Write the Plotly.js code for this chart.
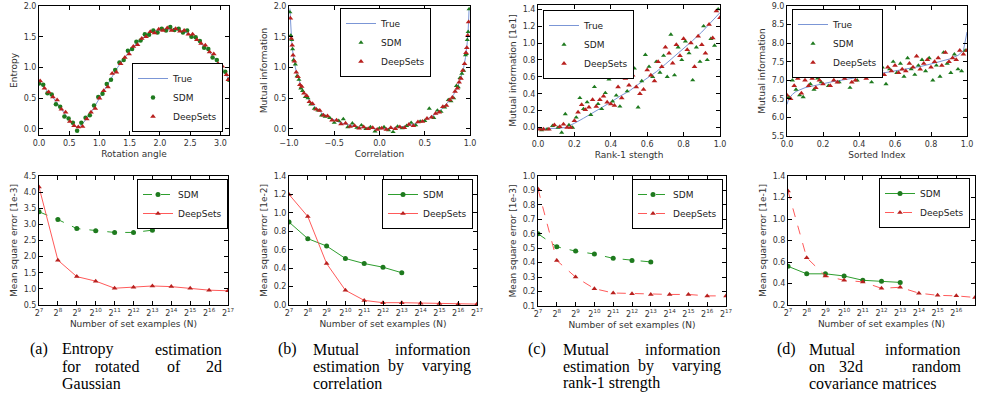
<!DOCTYPE html>
<html><head><meta charset="utf-8">
<script src="https://cdn.plot.ly/plotly-3.0.1.min.js"></script>
<style>html,body{margin:0;padding:0;background:#fff}#c{width:981px;height:419px}</style>
</head><body><div id="c"></div>
<script>
// ---------- Panel (a) top: entropy vs rotation angle ----------
const aTrueX=[0,0.1,0.2,0.3,0.4,0.5,0.6,0.65,0.7,0.8,0.9,1.0,1.1,1.2,1.3,1.4,1.5,1.6,1.7,1.8,1.9,2.0,2.1,2.2,2.3,2.4,2.5,2.6,2.7,2.8,2.9,3.0,3.1,3.14];
const aTrueY=[0.76,0.66,0.55,0.42,0.28,0.14,0.04,0.02,0.06,0.18,0.33,0.50,0.67,0.84,1.00,1.14,1.27,1.38,1.47,1.54,1.59,1.61,1.62,1.62,1.61,1.58,1.53,1.46,1.37,1.27,1.15,1.01,0.87,0.81];
const aSdmX=[0.00,0.07,0.14,0.21,0.28,0.35,0.42,0.49,0.56,0.63,0.70,0.77,0.84,0.91,0.98,1.05,1.12,1.19,1.26,1.33,1.40,1.47,1.54,1.61,1.68,1.75,1.82,1.89,1.96,2.03,2.10,2.17,2.24,2.31,2.38,2.45,2.52,2.59,2.66,2.73,2.80,2.87,2.94,3.01,3.08,3.14];
const aSdmY=[0.74,0.72,0.58,0.56,0.40,0.36,0.20,0.17,0.10,-0.03,0.10,0.18,0.22,0.38,0.52,0.57,0.73,0.80,0.96,1.08,1.12,1.27,1.30,1.42,1.44,1.54,1.53,1.60,1.57,1.63,1.60,1.66,1.61,1.63,1.57,1.60,1.50,1.49,1.43,1.32,1.30,1.16,1.12,0.97,0.93,0.80];
const aDsX=[0.02,0.09,0.16,0.23,0.30,0.37,0.44,0.51,0.58,0.65,0.72,0.79,0.86,0.93,1.00,1.07,1.14,1.21,1.28,1.35,1.42,1.49,1.56,1.63,1.70,1.77,1.84,1.91,1.98,2.05,2.12,2.19,2.26,2.33,2.40,2.47,2.54,2.61,2.68,2.75,2.82,2.89,2.96,3.03,3.10,3.13];
const aDsY=[0.78,0.66,0.60,0.52,0.47,0.32,0.27,0.12,0.05,0.03,0.04,0.16,0.27,0.33,0.50,0.62,0.68,0.90,0.92,1.06,1.16,1.22,1.34,1.37,1.47,1.50,1.58,1.56,1.62,1.60,1.64,1.60,1.63,1.59,1.60,1.54,1.54,1.45,1.39,1.36,1.25,1.22,1.06,1.02,0.88,0.80];

// ---------- Panel (b) top: MI vs correlation ----------
const bTrueX=[-0.99,-0.98,-0.97,-0.96,-0.95,-0.93,-0.91,-0.89,-0.87,-0.85,-0.82,-0.79,-0.76,-0.72,-0.68,-0.64,-0.6,-0.55,-0.5,-0.45,-0.4,-0.35,-0.3,-0.25,-0.2,-0.15,-0.1,-0.05,0,0.05,0.1,0.15,0.2,0.25,0.3,0.35,0.4,0.45,0.5,0.55,0.6,0.64,0.68,0.72,0.76,0.79,0.82,0.85,0.87,0.89,0.91,0.93,0.95,0.96,0.97,0.98,0.99];
const bTrueY=[1.96,1.61,1.41,1.27,1.16,1.00,0.88,0.79,0.71,0.64,0.56,0.49,0.43,0.37,0.31,0.26,0.22,0.18,0.14,0.11,0.087,0.065,0.047,0.032,0.02,0.011,0.005,0.001,0,0.001,0.005,0.011,0.02,0.032,0.047,0.065,0.087,0.11,0.14,0.18,0.22,0.26,0.31,0.37,0.43,0.49,0.56,0.64,0.71,0.79,0.88,1.00,1.16,1.27,1.41,1.61,1.96];
const bSdmX=[-0.99,-0.98,-0.97,-0.96,-0.95,-0.93,-0.91,-0.89,-0.87,-0.85,-0.82,-0.79,-0.76,-0.72,-0.68,-0.64,-0.6,-0.55,-0.5,-0.45,-0.4,-0.35,-0.3,-0.25,-0.2,-0.15,-0.1,-0.05,0,0.05,0.1,0.15,0.2,0.25,0.3,0.35,0.4,0.45,0.5,0.55,0.6,0.64,0.68,0.72,0.76,0.79,0.82,0.85,0.87,0.89,0.91,0.93,0.95,0.96,0.97,0.98,0.99];
const bSdmY=[1.90,1.52,1.45,1.30,1.12,1.05,0.86,0.80,0.66,0.62,0.52,0.50,0.40,0.33,0.30,0.22,0.20,0.18,0.10,0.13,0.16,0.03,0.09,0.02,0.06,0.0,0.03,-0.04,0.01,0.03,-0.02,-0.05,0.04,0.01,0.05,0.10,0.06,0.12,0.13,0.33,0.18,0.30,0.28,0.35,0.47,0.45,0.50,0.70,0.68,0.83,0.90,0.95,1.20,1.22,1.45,1.58,1.95];
const bDsX=[-0.985,-0.975,-0.965,-0.955,-0.94,-0.92,-0.90,-0.88,-0.86,-0.835,-0.805,-0.775,-0.74,-0.70,-0.66,-0.62,-0.575,-0.525,-0.475,-0.425,-0.375,-0.325,-0.275,-0.225,-0.175,-0.125,-0.075,-0.025,0.025,0.075,0.125,0.175,0.225,0.275,0.325,0.375,0.425,0.475,0.525,0.575,0.62,0.66,0.70,0.74,0.775,0.805,0.835,0.86,0.88,0.90,0.92,0.94,0.955,0.965,0.975,0.985];
const bDsY=[1.80,1.47,1.36,1.20,1.10,0.92,0.85,0.72,0.69,0.58,0.54,0.44,0.41,0.32,0.30,0.22,0.21,0.14,0.14,0.08,0.09,0.04,0.05,0.01,0.03,0.0,0.02,-0.01,0.01,-0.01,0.02,0.0,0.03,0.02,0.07,0.05,0.11,0.12,0.17,0.19,0.25,0.27,0.36,0.38,0.47,0.51,0.61,0.66,0.76,0.82,0.95,1.06,1.24,1.32,1.52,1.74];

// ---------- Panel (c) top: MI vs rank-1 strength ----------
const cTrueX=[0,0.05,0.1,0.15,0.2,0.25,0.3,0.35,0.4,0.45,0.5,0.55,0.6,0.65,0.7,0.75,0.8,0.85,0.9,0.95,1.0];
const cTrueY=[-0.01,-0.01,-0.01,0.0,0.05,0.11,0.17,0.23,0.30,0.37,0.43,0.51,0.58,0.66,0.75,0.84,0.93,1.03,1.13,1.24,1.36];
const cSdmX=[0.02,0.05,0.08,0.11,0.13,0.15,0.17,0.19,0.21,0.23,0.25,0.27,0.29,0.31,0.33,0.35,0.37,0.39,0.41,0.43,0.45,0.47,0.49,0.51,0.53,0.55,0.57,0.59,0.61,0.63,0.65,0.67,0.69,0.71,0.73,0.75,0.77,0.79,0.81,0.83,0.85,0.87,0.89,0.91,0.93,0.95,0.97,0.99];
const cSdmY=[-0.03,-0.02,0.02,0.0,-0.06,0.16,0.03,0.0,0.12,0.35,0.22,0.30,0.15,0.48,0.28,0.22,0.41,0.57,0.31,0.38,0.25,0.60,0.43,0.72,0.70,0.24,0.55,0.86,0.72,0.60,0.78,0.65,0.85,0.60,1.10,0.62,0.95,0.80,1.02,0.88,0.56,0.95,0.78,1.20,0.80,1.05,0.97,1.40];
const cDsX=[0.01,0.03,0.06,0.09,0.12,0.14,0.16,0.18,0.20,0.22,0.24,0.26,0.28,0.30,0.32,0.34,0.36,0.38,0.40,0.42,0.44,0.46,0.48,0.50,0.52,0.54,0.56,0.58,0.60,0.62,0.64,0.66,0.68,0.70,0.72,0.74,0.76,0.78,0.80,0.82,0.84,0.86,0.88,0.90,0.92,0.94,0.96,0.98,1.00];
const cDsY=[-0.02,-0.02,-0.02,0.03,0.01,0.04,0.0,0.0,0.08,0.18,0.27,0.21,0.24,0.33,0.25,0.33,0.37,0.30,0.28,0.26,0.48,0.35,0.58,0.50,0.62,0.48,0.40,0.45,0.68,0.62,0.55,0.78,0.72,0.95,0.88,0.76,0.98,0.85,1.05,0.92,1.00,0.72,1.08,0.98,0.88,1.22,1.06,1.38,1.30];

// ---------- Panel (d) top: MI on 32d covariance ----------
const dTrueX=[0,0.01,0.03,0.05,0.1,0.15,0.2,0.25,0.3,0.35,0.4,0.45,0.5,0.55,0.6,0.65,0.7,0.75,0.8,0.85,0.9,0.95,0.98,1.0];
const dTrueY=[6.35,6.5,6.62,6.70,6.80,6.86,6.91,6.96,7.00,7.04,7.08,7.12,7.16,7.20,7.24,7.29,7.33,7.38,7.44,7.50,7.57,7.67,7.80,8.3];
const dSdmX=[0.01,0.03,0.05,0.07,0.09,0.11,0.13,0.15,0.17,0.19,0.21,0.23,0.25,0.27,0.29,0.31,0.33,0.35,0.37,0.39,0.41,0.43,0.45,0.47,0.49,0.51,0.53,0.55,0.57,0.59,0.61,0.63,0.65,0.67,0.69,0.71,0.73,0.75,0.77,0.79,0.81,0.83,0.85,0.87,0.89,0.91,0.93,0.95,0.97,0.99];
const dSdmY=[6.55,7.00,6.75,6.60,6.55,7.20,6.90,6.75,7.05,6.95,7.25,6.85,7.10,7.15,6.95,7.15,7.20,6.80,7.40,7.00,7.30,7.15,7.25,6.95,7.30,7.10,7.35,6.90,7.30,7.50,7.20,7.45,7.10,7.60,7.30,7.15,7.40,7.55,7.25,7.60,7.00,7.40,7.10,7.75,7.45,7.20,7.70,7.30,7.25,7.80];
const dDsX=[0.00,0.02,0.04,0.06,0.08,0.10,0.12,0.14,0.16,0.18,0.20,0.22,0.24,0.26,0.28,0.30,0.32,0.34,0.36,0.38,0.40,0.42,0.44,0.46,0.48,0.50,0.52,0.54,0.56,0.58,0.60,0.62,0.64,0.66,0.68,0.70,0.72,0.74,0.76,0.78,0.80,0.82,0.84,0.86,0.88,0.90,0.92,0.94,0.96,0.98,1.00];
const dDsY=[6.60,6.50,6.85,7.05,6.65,7.00,6.85,7.05,6.80,7.00,6.90,7.30,6.85,7.00,6.95,7.10,7.05,7.20,6.95,7.00,7.15,7.30,7.05,7.20,7.65,7.25,7.30,7.15,7.35,7.25,7.40,7.20,7.30,7.25,7.45,7.35,7.65,7.30,7.45,7.55,7.35,7.50,7.60,7.40,7.75,7.50,7.60,7.55,7.80,7.70,7.80];

// ---------- Bottom row: MSE vs number of set examples ----------
const nExp=[7,8,9,10,11,12,13,14,15,16,17];
const nLabels=['2<sup>7</sup>','2<sup>8</sup>','2<sup>9</sup>','2<sup>10</sup>','2<sup>11</sup>','2<sup>12</sup>','2<sup>13</sup>','2<sup>14</sup>','2<sup>15</sup>','2<sup>16</sup>','2<sup>17</sup>'];
const sdmExp=[7,8,9,10,11,12,13];
const eSdm=[3.39,3.15,2.87,2.80,2.75,2.75,2.82];
const eDs=[4.16,1.89,1.38,1.24,1.02,1.05,1.09,1.07,1.02,0.96,0.94];
const fSdm=[0.90,0.72,0.64,0.505,0.45,0.41,0.35];
const fDs=[1.20,0.96,0.45,0.16,0.05,0.025,0.025,0.02,0.015,0.01,0.01];
const gSdm=[0.60,0.51,0.48,0.46,0.43,0.415,0.405];
const gDs=[0.91,0.415,0.30,0.22,0.19,0.185,0.18,0.18,0.18,0.17,0.17];
const hSdm=[0.56,0.49,0.49,0.47,0.43,0.42,0.41];
const hDs=[1.26,0.64,0.47,0.43,0.415,0.355,0.365,0.31,0.29,0.285,0.27];

// ---------- styling / layout ----------
const W=981,H=419;
const GREEN='#1e7a1e', RED='#b8201e', REDL='#ff5a5a', GREENL='#2e9e2e', BLUE='#7b96d6';
const fx=p=>p/W, fy=p=>1-p/H;
const tickFont={family:'DejaVu Sans',size:8,color:'#333'};
const titleFont={family:'DejaVu Sans',size:9,color:'#333'};

const panels=[
 {x:[39,229],y:[6,135]},{x:[289,470],y:[6,135]},{x:[538,720],y:[5,136]},{x:[787,967],y:[6,136]},
 {x:[39,228],y:[176,305]},{x:[289,477],y:[176,305]},{x:[538,726],y:[176,306]},{x:[788,975],y:[176,305]}
];
const axX=[
 {range:[0,Math.PI],tickvals:[0,0.5,1,1.5,2,2.5,3],title:'Rotation angle'},
 {range:[-1,1],tickvals:[-1,-0.5,0,0.5,1],title:'Correlation'},
 {range:[0,1],tickvals:[0,0.2,0.4,0.6,0.8,1],title:'Rank-1 stength'},
 {range:[0,1],tickvals:[0,0.2,0.4,0.6,0.8,1],title:'Sorted Index'}
];
const axY=[
 {range:[-0.1,2.0],tickvals:[0,0.5,1,1.5,2],title:'Entropy'},
 {range:[-0.1,2.0],tickvals:[0,0.5,1,1.5,2],title:'Mutual information'},
 {range:[-0.1,1.45],tickvals:[0,0.2,0.4,0.6,0.8,1,1.2,1.4],title:'Mutual information [1e1]'},
 {range:[5.5,9.0],tickvals:[5.5,6,6.5,7,7.5,8,8.5,9],title:'Mutual information'},
 {range:[0.5,4.5],tickvals:[0.5,1,1.5,2,2.5,3,3.5,4,4.5],title:'Mean square error [1e-3]'},
 {range:[0,1.4],tickvals:[0,0.2,0.4,0.6,0.8,1,1.2,1.4],title:'Mean square error [1e-2]'},
 {range:[0.1,1.0],tickvals:[0.1,0.2,0.3,0.4,0.5,0.6,0.7,0.8,0.9,1.0],title:'Mean square error [1e-3]'},
 {range:[0.2,1.4],tickvals:[0.2,0.4,0.6,0.8,1,1.2,1.4],title:'Mean square error [1e-1]'}
];
const legPos=[
 {x:223,y:132,xa:'right',ya:'bottom'},{x:340,y:8,xa:'left',ya:'top'},{x:543,y:10,xa:'left',ya:'top'},{x:792,y:9,xa:'left',ya:'top'},
 {x:228,y:179,xa:'right',ya:'top'},{x:473,y:179,xa:'right',ya:'top'},{x:723,y:179,xa:'right',ya:'top'},{x:970,y:178,xa:'right',ya:'top'}
];

const layout={width:W,height:H,margin:{l:0,r:0,t:0,b:0},paper_bgcolor:'#fff',plot_bgcolor:'#fff',
  showlegend:true,annotations:[],font:{family:'DejaVu Sans'}};
const axBase={showline:true,linecolor:'#000',linewidth:1,mirror:'ticks',ticks:'inside',ticklen:4,tickcolor:'#000',
  showgrid:false,zeroline:false,tickfont:tickFont,fixedrange:true};

panels.forEach((p,i)=>{
  const k=i+1, sx=k===1?'':k, lg=k===1?'legend':'legend'+k;
  const xa=Object.assign({},axBase,{domain:[fx(p.x[0]),fx(p.x[1])],anchor:'y'+sx});
  if(i<4){
    const d=axX[i];
    Object.assign(xa,{range:d.range,tickvals:d.tickvals,tickformat:'.1f',title:{text:d.title,font:titleFont,standoff:4}});
  } else {
    Object.assign(xa,{range:[7,17],tickvals:nExp,ticktext:nLabels,title:{text:'Number of set examples (N)',font:titleFont,standoff:4}});
  }
  const d=axY[i];
  const ya=Object.assign({},axBase,{domain:[fy(p.y[1]),fy(p.y[0])],anchor:'x'+sx,range:d.range,tickvals:d.tickvals,tickformat:'.1f',
    title:{text:d.title,font:titleFont,standoff:4}});
  layout['xaxis'+sx]=xa; layout['yaxis'+sx]=ya;
  const lp=legPos[i];
  layout[lg]={x:fx(lp.x),y:fy(lp.y),xanchor:lp.xa,yanchor:lp.ya,xref:'paper',yref:'paper',bgcolor:'#fff',bordercolor:'#000',borderwidth:1,
    font:{family:'DejaVu Sans',size:9,color:'#222'},itemwidth:30,tracegroupgap:0};
});

const traces=[];
function ax(i){const k=i+1;return {xaxis:'x'+(k===1?'':k),yaxis:'y'+(k===1?'':k),legend:k===1?'legend':'legend'+k};}
const topData=[
 [aTrueX,aTrueY,aSdmX,aSdmY,aDsX,aDsY,'circle'],
 [bTrueX,bTrueY,bSdmX,bSdmY,bDsX,bDsY,'triangle-up'],
 [cTrueX,cTrueY,cSdmX,cSdmY,cDsX,cDsY,'triangle-up'],
 [dTrueX,dTrueY,dSdmX,dSdmY,dDsX,dDsY,'triangle-up']
];
topData.forEach((t,i)=>{
  const a=ax(i);
  traces.push(Object.assign({type:'scatter',mode:'lines',name:'True',x:t[0],y:t[1],line:{color:BLUE,width:1}},a));
  traces.push(Object.assign({type:'scatter',mode:'markers',name:'SDM',x:t[2],y:t[3],marker:{symbol:t[6],size:4.5,color:GREEN,line:{width:0}}},a));
  traces.push(Object.assign({type:'scatter',mode:'markers',name:'DeepSets',x:t[4],y:t[5],marker:{symbol:'triangle-up',size:5,color:RED,line:{width:0}}},a));
});
const botData=[[eSdm,eDs,'dash','solid'],[fSdm,fDs,'solid','solid'],[gSdm,gDs,'dash','dash'],[hSdm,hDs,'solid','dash']];
botData.forEach((t,j)=>{
  const a=ax(j+4);
  traces.push(Object.assign({type:'scatter',mode:'lines+markers',name:'SDM',x:sdmExp,y:t[0],
    line:{color:GREENL,width:1,dash:t[2]},marker:{symbol:'circle',size:5,color:GREEN}},a));
  traces.push(Object.assign({type:'scatter',mode:'lines+markers',name:'DeepSets',x:nExp,y:t[1],
    line:{color:REDL,width:1,dash:t[3]},marker:{symbol:'triangle-up',size:5,color:RED}},a));
});

// ---------- captions ----------
const capFont={family:'Liberation Serif',size:16,color:'#000'};
const L1=349,L2=366,L3=383;
const capWords=[
 ['(a)',29,L1,'left'],['Entropy',61,L1,'left'],['estimation',223,L1,'right'],
 ['for',61,L2,'left'],['rotated',94,L2,'left'],['of',166,L2,'left'],['2d',223,L2,'right'],['Gaussian',61,L3,'left'],
 ['(b)',277,L1,'left'],['Mutual',312,L1,'left'],['information',472,L1,'right'],['estimation',312,L2,'left'],['by',387,L2,'left'],['varying',472,L2,'right'],['correlation',312,L3,'left'],
 ['(c)',527,L1,'left'],['Mutual',562,L1,'left'],['information',722,L1,'right'],['estimation',562,L2,'left'],['by',637,L2,'left'],['varying',722,L2,'right'],['rank-1 strength',562,L3,'left'],
 ['(d)',776,L1,'left'],['Mutual',808,L1,'left'],['information',962,L1,'right'],['on',808,L2,'left'],['32d',838,L2,'left'],['random',962,L2,'right'],['covariance matrices',808,L3,'left']
];
capWords.forEach(w=>layout.annotations.push({text:w[0],x:fx(w[1]),y:fy(w[2]),xref:'paper',yref:'paper',xanchor:w[3],yanchor:'middle',
  showarrow:false,font:capFont,borderpad:0}));

Plotly.newPlot('c',traces,layout,{staticPlot:true});
</script></body></html>
